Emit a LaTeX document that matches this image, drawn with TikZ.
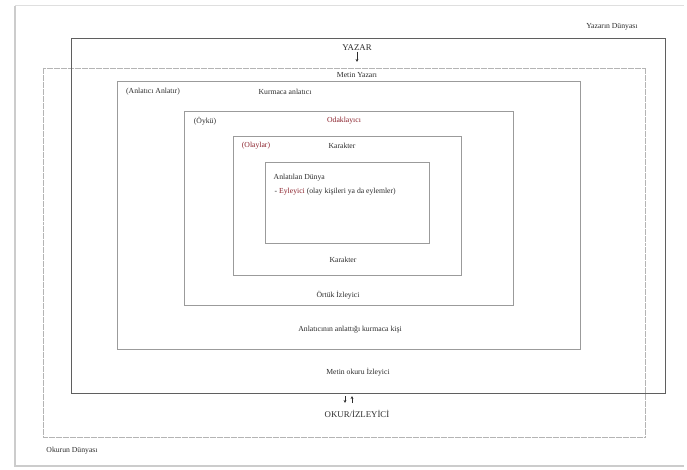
\documentclass[tikz,border=0pt]{standalone}
\usepackage{fontspec}
\setmainfont{Liberation Serif}
\usetikzlibrary{arrows.meta}
\definecolor{boxgray}{RGB}{155,155,155}
\definecolor{darkbox}{RGB}{95,95,95}
\definecolor{txt}{RGB}{45,45,45}
\definecolor{redtxt}{RGB}{140,35,45}
\tikzset{
  lbl/.style={font=\fontsize{7.7}{9}\selectfont, text=txt, inner sep=0.5pt},
  biglbl/.style={lbl, font=\fontsize{8.8}{10}\selectfont},
  redlbl/.style={lbl, text=redtxt},
  frame/.style={draw=boxgray, line width=0.9pt},
  darkframe/.style={draw=darkbox, line width=0.9pt},
  lightframe/.style={draw=boxgray!75, line width=0.8pt, dash pattern=on 3pt off 0.5pt},
  arr/.style={-{Stealth[length=3pt,width=2.8pt]}, draw=txt, line width=0.5pt}
}
\begin{document}
\begin{tikzpicture}[x=1pt,y=-1pt]
\useasboundingbox (0,0) rectangle (687,470);
% page
\fill[white] (0,0) rectangle (687,470);
\draw[gray!40, line width=2.2pt] (15,6) -- (15,466) -- (684,466);
\draw[gray!25, line width=0.6pt] (15,5) -- (684,5);
% boxes
\draw[lightframe] (43,68) rectangle (645,437);
\draw[darkframe] (71,38) rectangle (665,393);
\draw[frame] (117,81) rectangle (580,349);
\draw[frame] (184,111) rectangle (513,305);
\draw[frame] (233,136) rectangle (461,275);
\draw[frame] (265,162) rectangle (429,243);
% texts
\node[lbl] (dunya) at (612,27) {Yazarın Dünyası};
\node[biglbl] (yazar) at (357,48) {YAZAR};
\node[lbl] (metinyazari) at (357,75) {Metin Yazarı};
\coordinate (yazarok) at (357,62);
\draw[arr] (yazar.south) -- (yazarok);
\node[lbl] (anlaticianlatir) at (153,92) {(Anlatıcı Anlatır)};
\node[lbl] (kurmaca) at (285,92) {Kurmaca anlatıcı};
\node[lbl] (oyku) at (205,121) {(Öykü)};
\node[redlbl] (odak) at (344,121) {Odaklayıcı};
\node[redlbl] (olaylar) at (256,146) {(Olaylar)};
\node[lbl] (karakter1) at (342,146) {Karakter};
\node[lbl, anchor=west] (anlatilan) at (273,178) {Anlatılan Dünya};
\node[lbl, anchor=west] (eyleyici) at (274,192) {- \textcolor{redtxt}{Eyleyici} (olay kişileri ya da eylemler)};
\node[lbl] (karakter2) at (343,260) {Karakter};
\node[lbl] (ortuk) at (338,295) {Örtük İzleyici};
\node[lbl] (anlatim) at (350,330) {Anlatıcının anlattığı kurmaca kişi};
\node[lbl] (metinokuru) at (358,372) {Metin okuru İzleyici};
\node[biglbl] (okur) at (357,414) {OKUR/İZLEYİCİ};
\coordinate (a1top) at (345,396);
\coordinate (a1bot) at (345,403);
\coordinate (a2top) at (352,396);
\coordinate (a2bot) at (352,403);
\draw[arr] (a1top) -- (a1bot);
\draw[arr] (a2bot) -- (a2top);
\node[lbl] (okurdunya) at (72,451) {Okurun Dünyası};
\end{tikzpicture}
\end{document}
